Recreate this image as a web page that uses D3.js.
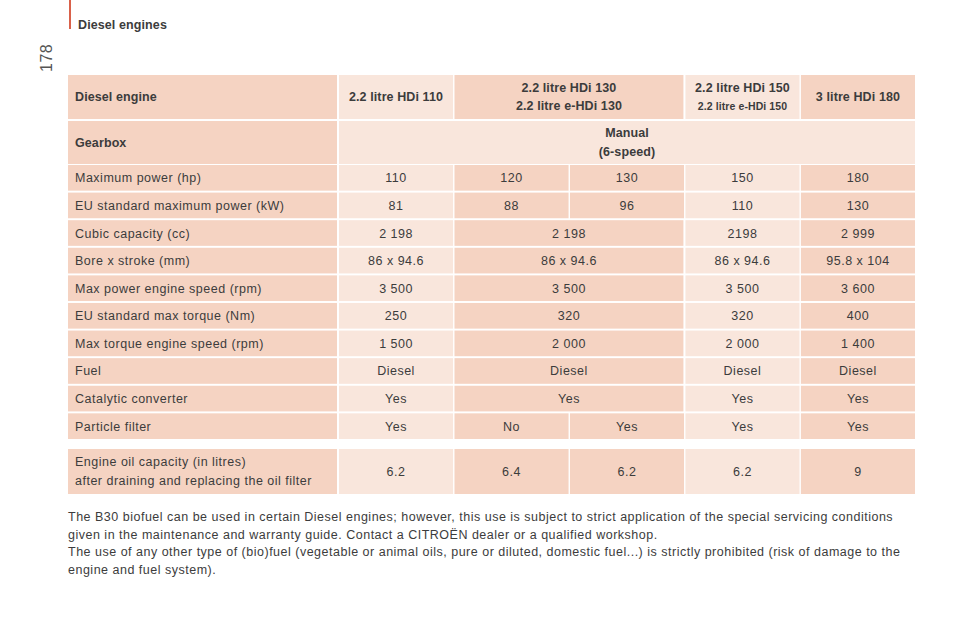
<!DOCTYPE html>
<meta charset="utf-8">
<style>
body { margin: 0; background: #fff; }
text { font-family: "Liberation Sans", Arial, sans-serif; fill: #3c3c3c; letter-spacing: 0.5px; }
.b { font-weight: bold; letter-spacing: 0.1px; }
</style>
<svg width="960" height="640"></svg>
<script src="https://d3js.org/d3.v7.min.js"></script>
<script>
var dark = "#f5d3c2", light = "#f9e6dc";

var engines = ["2.2 litre HDi 110", "2.2 litre HDi 130|2.2 litre e-HDi 130", "", "2.2 litre HDi 150|2.2 litre e-HDi 150", "3 litre HDi 180"];
var rowLabels = ["Maximum power (hp)", "EU standard maximum power (kW)", "Cubic capacity (cc)", "Bore x stroke (mm)",
  "Max power engine speed (rpm)", "EU standard max torque (Nm)", "Max torque engine speed (rpm)", "Fuel",
  "Catalytic converter", "Particle filter"];
// null = merged with the cell on the left
var values = [
  ["110", "120", "130", "150", "180"],
  ["81", "88", "96", "110", "130"],
  ["2 198", "2 198", null, "2198", "2 999"],
  ["86 x 94.6", "86 x 94.6", null, "86 x 94.6", "95.8 x 104"],
  ["3 500", "3 500", null, "3 500", "3 600"],
  ["250", "320", null, "320", "400"],
  ["1 500", "2 000", null, "2 000", "1 400"],
  ["Diesel", "Diesel", null, "Diesel", "Diesel"],
  ["Yes", "Yes", null, "Yes", "Yes"],
  ["Yes", "No", "Yes", "Yes", "Yes"]
];
var oilLabel = ["Engine oil capacity (in litres)", "after draining and replacing the oil filter"];
var oilValues = ["6.2", "6.4", "6.2", "6.2", "9"];
var colShade = [light, dark, dark, light, dark];

var svg = d3.select("svg");
var x = d3.scaleBand().domain(d3.range(5)).range([339, 915]).paddingInner(0.012);
var y = d3.scaleBand().domain(d3.range(rowLabels.length)).range([165, 439]).paddingInner(0.07);
var gap = 2;

function cell(x0, y0, w, h, fill) {
  svg.append("rect").attr("x", x0).attr("y", y0).attr("width", w).attr("height", h).attr("fill", fill);
}
function txt(x0, y0, s, anchor, cls, size) {
  svg.append("text").attr("x", x0).attr("y", y0).attr("text-anchor", anchor || "start")
    .attr("class", cls || null).style("font-size", (size || 12.5) + "px").text(s);
}

// page header
svg.append("rect").attr("x", 69).attr("y", 0).attr("width", 2).attr("height", 29).attr("fill", "#d9614a");
txt(78, 29, "Diesel engines", "start", "b", 12.5);
svg.append("text").attr("transform", "translate(52,72) rotate(-90)").style("font-size", "16px").style("fill", "#555").text("178");

// header row
cell(68, 75, 269, 44, dark);
txt(75, 101, "Diesel engine", "start", "b");
engines.forEach(function(e, i) {
  if (i === 2) return;
  var w = (i === 1) ? x(3) - x(1) - gap : x.bandwidth();
  cell(x(i), 75, w, 44, i === 1 ? dark : colShade[i]);
  var cx = x(i) + w / 2, parts = e.split("|");
  if (parts.length === 1) txt(cx, 101, parts[0], "middle", "b");
  else { txt(cx, 92, parts[0], "middle", "b"); txt(cx, 110, parts[1], "middle", "b", i === 3 ? 10.5 : 12.5); }
});

// gearbox row
cell(68, 121, 269, 43, dark);
txt(75, 147, "Gearbox", "start", "b");
cell(339, 121, 576, 43, light);
txt(627, 137, "Manual", "middle", "b");
txt(627, 156, "(6-speed)", "middle", "b");

// data rows
rowLabels.forEach(function(lab, r) {
  var y0 = y(r), h = y.bandwidth();
  cell(68, y0, 269, h, dark);
  txt(75, y0 + h / 2 + 4.5, lab);
  values[r].forEach(function(v, i) {
    if (v === null) return;
    var merged = i === 1 && values[r][2] === null;
    var w = merged ? x(3) - x(1) - gap : x.bandwidth();
    cell(x(i), y0, w, h, colShade[i]);
    txt(x(i) + w / 2, y0 + h / 2 + 4.5, v, "middle");
  });
});

// oil row
cell(68, 449, 269, 45, dark);
txt(75, 466, oilLabel[0]);
txt(75, 485, oilLabel[1]);
oilValues.forEach(function(v, i) {
  cell(x(i), 449, x.bandwidth(), 45, colShade[i]);
  txt(x(i) + x.bandwidth() / 2, 476, v, "middle");
});

// notes
var notes = [
  "The B30 biofuel can be used in certain Diesel engines; however, this use is subject to strict application of the special servicing conditions",
  "given in the maintenance and warranty guide. Contact a CITROËN dealer or a qualified workshop.",
  "The use of any other type of (bio)fuel (vegetable or animal oils, pure or diluted, domestic fuel...) is strictly prohibited (risk of damage to the",
  "engine and fuel system)."
];
[521, 539, 556, 574].forEach(function(yy, i) { txt(68, yy, notes[i], "start", null, 12.5); });
</script>
